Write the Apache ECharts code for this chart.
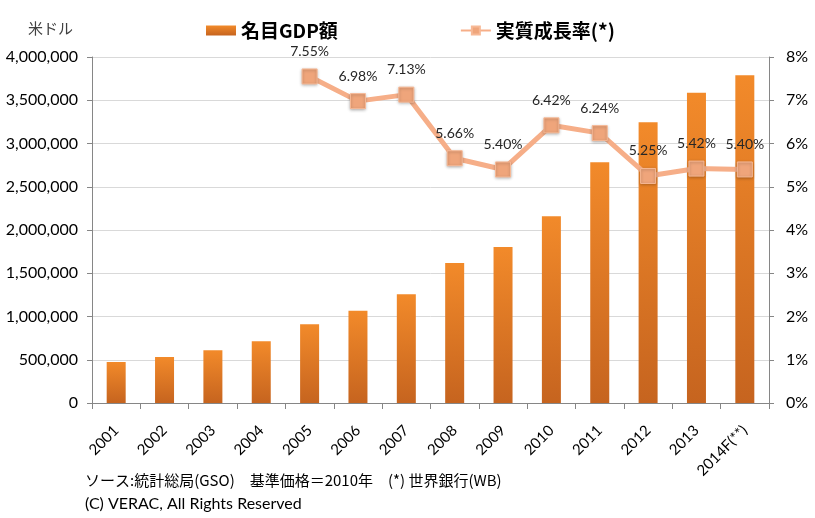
<!DOCTYPE html>
<html><head><meta charset="utf-8">
<script src="https://cdn.jsdelivr.net/npm/echarts@6/dist/echarts.min.js"></script>
<style>html,body{margin:0;padding:0;background:#fff}#c{width:815px;height:518px}</style>
</head><body><div id="c"></div>
<script>
const categories = ['2001','2002','2003','2004','2005','2006','2007','2008','2009','2010','2011','2012','2013','2014F(**)'];
const gdpValues = [474000, 532000, 609000, 713000, 910000, 1067000, 1258000, 1618000, 1803000, 2158000, 2783000, 3245000, 3587000, 3788000];
const growthValues = [null, null, null, null, 7.55, 6.98, 7.13, 5.66, 5.40, 6.42, 6.24, 5.25, 5.42, 5.40];
const leftTicks = [0, 500000, 1000000, 1500000, 2000000, 2500000, 3000000, 3500000, 4000000];
const rightTicks = [0, 1, 2, 3, 4, 5, 6, 7, 8];
const seriesNames = ['名目GDP額', '実質成長率(*)'];
const unitLabel = '米ドル';
const footer1 = 'ソース:統計総局(GSO)　基準価格＝2010年　(*) 世界銀行(WB)';
const footer2 = '(C) VERAC, All Rights Reserved';

const numFont = 'Lato';
const jpFont = '"Noto Sans CJK JP"';
const chart = echarts.init(document.getElementById('c'));
chart.setOption({
  animation: false,
  backgroundColor: '#fff',
  grid: {left: 92, right: 46, top: 57, bottom: 115},
  legend: {
    top: 16, left: 201, itemGap: 122,
    itemWidth: 30, itemHeight: 10,
    textStyle: {fontFamily: jpFont, fontSize: 19, fontWeight: 'bold', color: '#000'},
    data: [{name: seriesNames[0], icon: 'rect'}, {name: seriesNames[1]}]
  },
  graphic: [
    {type: 'text', left: 28, top: 21, style: {text: unitLabel, font: '15px ' + jpFont, fill: '#404040'}},
    {type: 'text', left: 85, top: 473, style: {text: footer1, font: '15px ' + jpFont, fill: '#000'}},
    {type: 'text', left: 85, top: 496, style: {text: footer2, font: '16px ' + numFont, fill: '#000'}}
  ],
  xAxis: {
    type: 'category', data: categories,
    axisLine: {lineStyle: {color: '#868686'}},
    axisTick: {show: true, length: 6, lineStyle: {color: '#868686'}},
    axisLabel: {rotate: 45, fontFamily: numFont, fontSize: 15, color: '#000', margin: 25, interval: 0}
  },
  yAxis: [
    {
      type: 'value', min: 0, max: 4000000, interval: 500000,
      axisLine: {show: true, lineStyle: {color: '#868686'}},
      axisTick: {show: true, length: 5, lineStyle: {color: '#868686'}},
      splitLine: {lineStyle: {color: '#D9D9D9'}},
      axisLabel: {fontFamily: numFont, fontSize: 16, color: '#000', margin: 14,
        formatter: v => v.toLocaleString('en-US')}
    },
    {
      type: 'value', min: 0, max: 8, interval: 1,
      axisLine: {show: true, lineStyle: {color: '#868686'}},
      axisTick: {show: true, length: 5, lineStyle: {color: '#868686'}},
      splitLine: {show: false},
      axisLabel: {fontFamily: numFont, fontSize: 16, color: '#000', margin: 17,
        formatter: v => v + '%'}
    }
  ],
  series: [
    {
      name: seriesNames[0], type: 'bar', data: gdpValues, barWidth: 19,
      itemStyle: {
        color: new echarts.graphic.LinearGradient(0, 0, 0, 1, [
          {offset: 0, color: '#F28A2A'},
          {offset: 1, color: '#C6641F'}
        ])
      }
    },
    {
      name: seriesNames[1], type: 'line', yAxisIndex: 1, data: growthValues,
      symbol: 'rect', symbolSize: 15,
      lineStyle: {color: '#F6AE88', width: 5},
      itemStyle: {color: '#EFA57B', borderColor: '#F7B996', borderWidth: 1,
        shadowColor: 'rgba(0,0,0,0.3)', shadowBlur: 3, shadowOffsetY: 1},
      label: {show: true, position: 'top', distance: 10,
        fontFamily: numFont, fontSize: 14, color: '#262626',
        formatter: p => p.value.toFixed(2) + '%'},
      z: 5
    }
  ]
});
</script></body></html>
